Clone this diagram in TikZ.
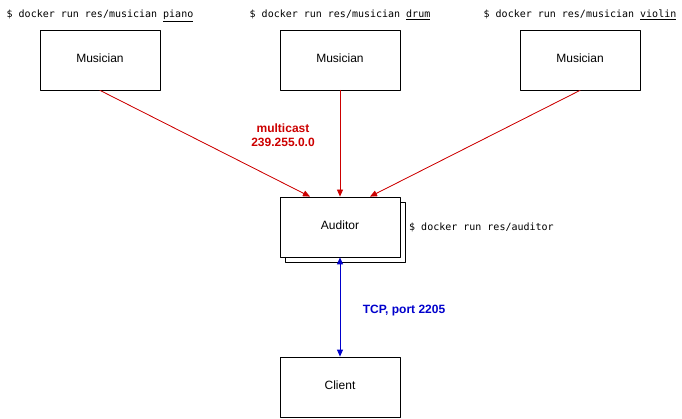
\documentclass[tikz,border=0pt]{standalone}
\usepackage{fontspec}
\setmainfont{Liberation Sans}
\setmonofont{DejaVu Sans Mono}
\usepackage{xcolor}
\usetikzlibrary{arrows.meta,positioning,calc}
\definecolor{mcred}{HTML}{CC0000}
\definecolor{tcpblue}{HTML}{0000CC}

\begin{document}
\begin{tikzpicture}[x=1pt,y=-1pt,line cap=round,line join=round,>={Triangle[length=7pt,width=6pt]},
    box/.style={draw,line width=0.8pt,fill=white,minimum width=120pt,minimum height=60pt,inner sep=0pt,text depth=3.5pt,font=\fontsize{12}{14}\selectfont},
    cmd/.style={font=\ttfamily\fontsize{10}{12}\selectfont,inner sep=0pt},
    red link/.style={->,draw=mcred,fill=mcred,line width=0.8pt},
    blue link/.style={<->,draw=tcpblue,fill=tcpblue,line width=0.8pt}]
    \useasboundingbox (0,0) rectangle (682,419);
    % musicians
    \node[box] (piano) at (100,60) {Musician};
    \node[box] (drum) at (340,60) {Musician};
    \node[box] (violin) at (580,60) {Musician};
    \node[cmd,anchor=base] (cpiano) at (100,18) {\$ docker run res/musician \underline{piano}};
    \node[cmd,anchor=base] (cdrum) at (340,18) {\$ docker run res/musician \underline{drum}};
    \node[cmd,anchor=base] (cviolin) at (580,18) {\$ docker run res/musician \underline{violin}};
    % auditor with its shadow copy
    \node[box] (shadow) at (345,232) {};
    \node[box] (aud) at (340,227) {Auditor};
    \node[cmd,anchor=west] (caud) at (409,227) {\$ docker run res/auditor};
    % client
    \node[box] (client) at (340,387) {Client};
    % udp multicast
    \draw[red link] (piano.south) -- ([xshift=-30pt]aud.north);
    \draw[red link] (drum.south) -- (aud.north);
    \draw[red link] (violin.south) -- ([xshift=30pt]aud.north);
    \node[align=center,text=mcred,font=\bfseries\fontsize{12}{14}\selectfont] (mc) at (283,135) {multicast\\239.255.0.0};
    % tcp
    \draw[blue link] (aud.south) -- (client.north);
    \node[text=tcpblue,font=\bfseries\fontsize{12}{14}\selectfont] (tcp) at (404,311) {TCP, port 2205};
\end{tikzpicture}
\end{document}
